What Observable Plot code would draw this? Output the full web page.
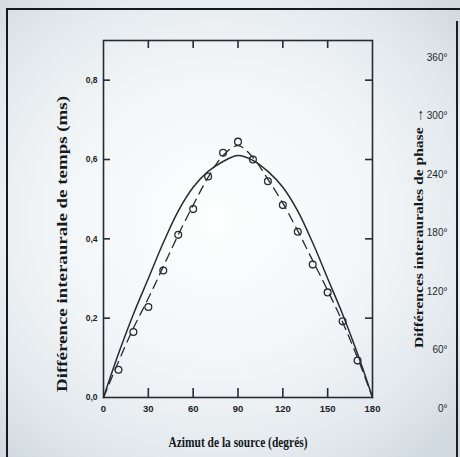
<!DOCTYPE html>
<html><head><meta charset="utf-8">
<script src="https://cdn.jsdelivr.net/npm/d3@7"></script>
<script src="https://cdn.jsdelivr.net/npm/@observablehq/plot@0.6"></script>
<style>
html,body{margin:0;padding:0;}
body{width:460px;height:457px;overflow:hidden;position:relative;
background: radial-gradient(ellipse 72% 68% at 47% 48%, #fdfefe 0%, #f2f5f7 50%, #e0e7eb 82%, #d0d9e0 100%);}
#border{position:absolute;left:6px;top:8px;width:470px;height:470px;border-top:2px solid #15191c;border-left:2px solid #15191c;}
#edge{position:absolute;left:456px;top:21px;width:0;height:440px;border-left:2px solid #1b1f22;}
#main{position:absolute;left:0;top:0;}
#phase{position:absolute;left:395px;top:0;}
</style></head><body>
<div id="border"></div><div id="edge"></div>
<div id="main"></div><div id="phase"></div>
<script>
// ---- data ----
const azimuth = [0,10,20,30,40,50,60,70,80,90,100,110,120,130,140,150,160,170,180];
const theoryITD = [0,0.11,0.21,0.30,0.39,0.47,0.53,0.57,0.595,0.61,0.598,0.57,0.53,0.47,0.39,0.30,0.21,0.11,0];
const fittedITD = [0,0.09,0.175,0.25,0.33,0.41,0.485,0.555,0.61,0.635,0.605,0.55,0.49,0.42,0.345,0.27,0.19,0.10,0];
const measuredAz  = [10,20,30,40,50,60,70,80,90,100,110,120,130,140,150,160,170];
const measuredITD = [0.07,0.165,0.228,0.32,0.41,0.475,0.557,0.617,0.645,0.60,0.545,0.485,0.418,0.335,0.265,0.192,0.093];
const xTicks = [0,30,60,90,120,150,180];
const xInnerTicks = [30,60,90,120,150];
const yTicks = [0,0.2,0.4,0.6,0.8];
const yInnerTicks = [0.2,0.4,0.6,0.8];
const phaseTicks = [0,60,120,180,240,300,360];
const xTitle = "Azimut de la source (degrés)";
const yTitle = "Différence interaurale de temps (ms)";
const phaseTitle = "Différences interaurales de phase →";

const ink = "#262c31";
const W = 460, H = 457, mL = 103, mR = 88, mT = 40, mB = 60;
const fw = W - mL - mR, fh = H - mT - mB;

const theory = azimuth.map((a,i)=>({a, v: theoryITD[i]}));
const fitted = azimuth.map((a,i)=>({a, v: fittedITD[i]}));
const measured = measuredAz.map((a,i)=>({a, v: measuredITD[i]}));

const main = Plot.plot({
  width: W, height: H, marginLeft: mL, marginRight: mR, marginTop: mT, marginBottom: mB,
  style: {background: "transparent", color: ink, fontFamily: "Liberation Sans, sans-serif"},
  x: {domain: [0,180]},
  y: {domain: [0,0.9]},
  marks: [
    Plot.frame({stroke: ink, strokeWidth: 1.6}),
    Plot.tickX(xInnerTicks, {x: d=>d, insetTop: fh - 9, stroke: ink, strokeWidth: 1.6}),
    Plot.tickX(xInnerTicks, {x: d=>d, insetBottom: fh - 8, stroke: ink, strokeWidth: 1.6}),
    Plot.tickY(yInnerTicks, {y: d=>d, insetRight: fw - 7, stroke: ink, strokeWidth: 1.6}),
    Plot.tickY(yInnerTicks, {y: d=>d, insetLeft: fw - 7, stroke: ink, strokeWidth: 1.6}),
    Plot.axisX({ticks: xTicks, tickSize: 0, tickPadding: 8, tickFormat: d=>String(d), label: null,
      fontSize: 9.5, fontWeight: "bold", fill: "#1d2226"}),
    Plot.axisY({ticks: yTicks, tickSize: 0, tickPadding: 6, tickFormat: d=>d.toFixed(1).replace(".", ","), label: null,
      fontSize: 8.5, fontWeight: "bold", fill: "#1d2226"}),
    Plot.line(fitted, {x: "a", y: "v", curve: "catmull-rom", stroke: ink, strokeWidth: 1.3, strokeDasharray: "9,6"}),
    Plot.line(theory, {x: "a", y: "v", curve: "catmull-rom", stroke: ink, strokeWidth: 1.5}),
    Plot.dot(measured, {x: "a", y: "v", r: 3.4, stroke: ink, strokeWidth: 1.3, fill: "none"}),
    Plot.text([xTitle], {frameAnchor: "bottom", dy: 45, textAnchor: "middle", lineAnchor: "middle",
      fontSize: 14.5, fontWeight: "bold", fontFamily: "Liberation Serif, serif", fill: "#15191c"}),
    Plot.text([yTitle], {frameAnchor: "left", rotate: -90, dx: -41, dy: 25, textAnchor: "middle", lineAnchor: "middle",
      fontSize: 15, fontWeight: "bold", fontFamily: "Liberation Serif, serif", fill: "#15191c"})
  ]
});
document.getElementById("main").appendChild(main);

const phase = Plot.plot({
  width: 65, height: H, marginLeft: 0, marginRight: 3, marginTop: 57, marginBottom: 49,
  style: {background: "transparent", color: ink, fontFamily: "Liberation Sans, sans-serif"},
  y: {domain: [0,360], axis: null},
  marks: [
    Plot.text(phaseTicks, {y: d=>d, text: d=>d + "°", frameAnchor: "right", textAnchor: "end", dx: -10,
      fontSize: 10, fill: "#22282d"}),
    Plot.text([phaseTitle], {frameAnchor: "left", rotate: -90, dx: 23, dy: -5, textAnchor: "middle", lineAnchor: "middle",
      fontSize: 13, fontWeight: "bold", fontFamily: "Liberation Serif, serif", fill: "#15191c"})
  ]
});
document.getElementById("phase").appendChild(phase);

// compress titles like the photographed page
function fit(svg, str, len){
  svg.querySelectorAll("text").forEach(t=>{
    if (t.textContent === str){ t.setAttribute("textLength", len); t.setAttribute("lengthAdjust", "spacingAndGlyphs"); }
  });
}
fit(main, xTitle, 139);
fit(main, yTitle, 296);
fit(phase, phaseTitle, 240);
</script>
</body></html>
